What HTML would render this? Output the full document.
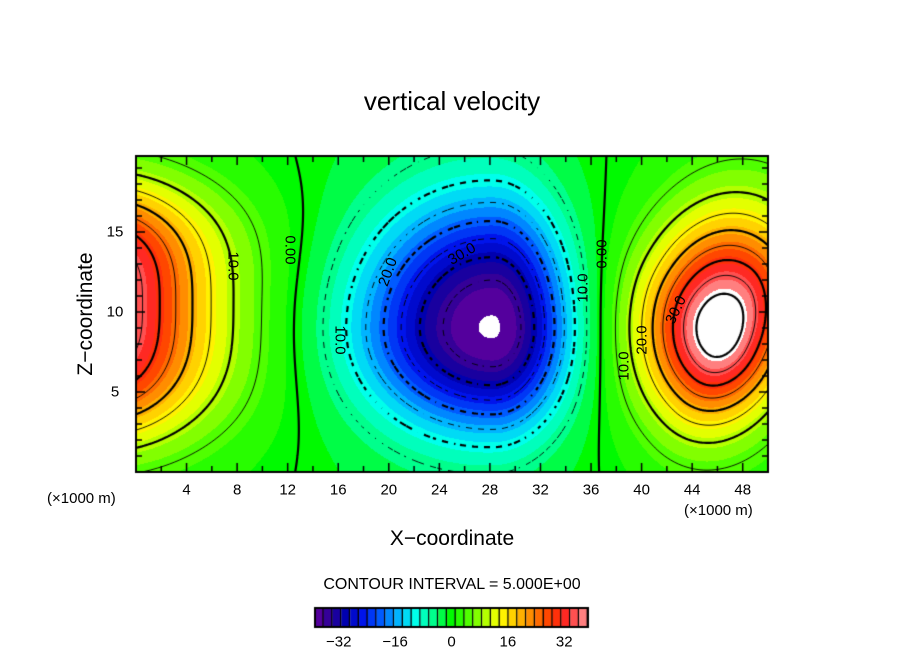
<!DOCTYPE html>
<html><head><meta charset="utf-8"><style>
html,body{margin:0;padding:0;background:#fff;}
#root{position:relative;width:904px;height:654px;overflow:hidden;font-family:"Liberation Sans",sans-serif;color:#000;}
.t{position:absolute;white-space:nowrap;}
</style></head><body>
<div id="root">
<div class="t" style="left:0;width:904px;text-align:center;top:86px;font-size:26px;">vertical velocity</div>
<canvas id="cv" width="904" height="654" style="position:absolute;left:0;top:0;"></canvas>
<div class="t" style="left:86px;top:314px;font-size:21px;transform:translate(-50%,-50%) rotate(-90deg);">Z−coordinate</div>
<div class="t" style="left:0;width:904px;text-align:center;top:527px;font-size:21px;">X−coordinate</div>
<div class="t" style="left:47px;top:490px;font-size:15px;">(×1000 m)</div>
<div class="t" style="left:684px;top:502px;font-size:15px;">(×1000 m)</div>
<div class="t" style="left:0;width:904px;text-align:center;top:576px;font-size:16px;">CONTOUR INTERVAL = 5.000E+00</div>
<div id="labels"></div>
</div>
<script>
// field blobs
const blobX = [-1, 28.3, 46.2];
const blobZ = [10.5, 9.0, 9.0];
const blobAmp = [37, -37.6, 42.8];
const blobSxL = [7.1, 10.3, 6.0];
const blobSxR = [7.1, 5.8, 5.0];
const blobSzU = [7.2, 7.8, 7.0];
const blobSzD = [8.0, 6.3, 6.0];
const blobQ = [1.5, 2.3, 2];
const blobP = [3, 2.3, 2];
const blobRadial = [0, 1, 0];
const blobTilt = [0, 0, 0.6];
const bgAmp = 1.5;
const bgZero = [12, 37.3];
const xTicks = [4, 8, 12, 16, 20, 24, 28, 32, 36, 40, 44, 48];
const zTicks = [5, 10, 15];
const cbTicks = [-32, -16, 0, 16, 32];
const contourLevels = [-40,-35,-30,-25,-20,-15,-10,-5,0,5,10,15,20,25,30,35,40];

const PL=136, PT=156, PW=632, PH=316, XMAX=50, ZMAX=19.75;
const sx = x => PL + x / XMAX * PW;
const sz = z => PT + PH - z / ZMAX * PH;
const VMIN=-38.75, VMAX=38.75, STEP=2.5;

function field(x, z) {
  let w = -bgAmp * Math.sin(Math.PI * (x - bgZero[0]) / (bgZero[1] - bgZero[0]));
  for (let i = 0; i < blobX.length; i++) {
    const dx = x - blobX[i], dz = z - blobZ[i], t = blobTilt[i];
    const u = dx*Math.cos(t) - dz*Math.sin(t);
    const v = dx*Math.sin(t) + dz*Math.cos(t);
    const sxx = u < 0 ? blobSxL[i] : blobSxR[i];
    const szz = v > 0 ? blobSzU[i] : blobSzD[i];
    let e;
    if (blobRadial[i]) {
      e = Math.pow(Math.sqrt((u/sxx)*(u/sxx) + (v/szz)*(v/szz)), blobQ[i]);
    } else {
      e = Math.pow(Math.abs(u)/sxx, blobQ[i]) + Math.pow(Math.abs(v)/szz, blobP[i]);
    }
    w += blobAmp[i]*Math.exp(-e);
  }
  return w;
}
const stops = [[-38.75,[100,0,160]],[-34,[40,0,150]],[-30,[0,0,175]],[-25,[0,20,235]],[-20,[0,90,255]],[-15,[0,180,255]],[-10,[0,255,235]],[-5,[0,255,140]],[0,[0,250,0]],[5,[80,255,0]],[10,[180,255,0]],[14,[255,255,0]],[19,[255,190,0]],[24,[255,120,0]],[29,[255,50,0]],[33,[255,40,40]],[36,[255,100,100]],[38.75,[255,150,150]]];
function color(v) {
  if (v < VMIN || v > VMAX) return [255,255,255];
  const b = Math.min(Math.floor((v - VMIN)/STEP), 30);
  const c = VMIN + (b + 0.5)*STEP;
  for (let i = 0; i < stops.length-1; i++) {
    if (c <= stops[i+1][0]) {
      const f = (c - stops[i][0])/(stops[i+1][0]-stops[i][0]);
      return stops[i][1].map((a,k)=>Math.round(a+(stops[i+1][1][k]-a)*f));
    }
  }
  return stops[stops.length-1][1];
}
const cv = document.getElementById('cv'), ctx = cv.getContext('2d');
const img = ctx.createImageData(PW, PH);
for (let py = 0; py < PH; py++) for (let px = 0; px < PW; px++) {
  const x = (px+0.5)/PW*XMAX, z = (PH-py-0.5)/PH*ZMAX;
  const c = color(field(x, z)); const o = (py*PW+px)*4;
  img.data[o]=c[0]; img.data[o+1]=c[1]; img.data[o+2]=c[2]; img.data[o+3]=255;
}
ctx.putImageData(img, PL, PT);
// contours (marching squares)
const G = 2, NX = PW/G, NY = Math.floor(PH/G);
const grid = [];
for (let j = 0; j <= NY; j++) { const row=[]; for (let i = 0; i <= NX; i++) row.push(field(i*G/PW*XMAX, ZMAX - j*G/PH*ZMAX)); grid.push(row); }
ctx.save(); ctx.beginPath(); ctx.rect(PL,PT,PW,PH); ctx.clip();
for (const L of contourLevels) {
  ctx.beginPath();
  ctx.lineWidth = (L % 10 === 0) ? 2.2 : 0.9;
  for (let j = 0; j < NY; j++) for (let i = 0; i < NX; i++) {
    if (L < 0 && ((Math.floor(i/3) + Math.floor(j/3)) % 2)) continue;
    const a=grid[j][i], b=grid[j][i+1], c=grid[j+1][i+1], d=grid[j+1][i];
    const pts = [];
    const X0 = PL+i*G, Y0 = PT+j*G;
    if ((a-L)*(b-L) < 0) pts.push([X0+G*(L-a)/(b-a), Y0]);
    if ((b-L)*(c-L) < 0) pts.push([X0+G, Y0+G*(L-b)/(c-b)]);
    if ((d-L)*(c-L) < 0) pts.push([X0+G*(L-d)/(c-d), Y0+G]);
    if ((a-L)*(d-L) < 0) pts.push([X0, Y0+G*(L-a)/(d-a)]);
    for (let k = 0; k+1 < pts.length; k += 2) { ctx.moveTo(pts[k][0],pts[k][1]); ctx.lineTo(pts[k+1][0],pts[k+1][1]); }
  }
  ctx.stroke();
}
ctx.restore();
// frame and ticks
ctx.lineWidth = 2; ctx.strokeStyle = '#000'; ctx.strokeRect(PL, PT, PW, PH);
ctx.lineWidth = 1.5; ctx.beginPath();
for (let x = 2; x < XMAX; x += 2) { const L = x % 4 === 0 ? 9 : 6; const X = sx(x);
  ctx.moveTo(X, PT+PH); ctx.lineTo(X, PT+PH-L); ctx.moveTo(X, PT); ctx.lineTo(X, PT+L); }
for (let z = 1; z < ZMAX; z++) { const L = z % 5 === 0 ? 9 : 6; const Y = sz(z);
  ctx.moveTo(PL, Y); ctx.lineTo(PL+L, Y); ctx.moveTo(PL+PW, Y); ctx.lineTo(PL+PW-L, Y); }
ctx.stroke();
// colorbar
const CBL=315, CBR=588, CBT=608, CBB=627;
const cbx = v => CBL + (v - VMIN)/(VMAX - VMIN)*(CBR - CBL);
for (let b = 0; b < 31; b++) {
  const v0 = VMIN + b*STEP; const c = color(v0 + STEP/2);
  ctx.fillStyle = `rgb(${c[0]},${c[1]},${c[2]})`;
  ctx.fillRect(cbx(v0), CBT, cbx(v0+STEP)-cbx(v0), CBB-CBT);
  ctx.fillStyle = '#000'; ctx.fillRect(cbx(v0+STEP)-1.4, CBT, 1.4, CBB-CBT);
}
ctx.lineWidth = 2; ctx.strokeRect(CBL, CBT, CBR-CBL, CBB-CBT);
const lab = document.getElementById('labels');
function addText(name, txt, x, y, size, rot) {
  const d = document.createElement('div');
  d.className = 't';
  
  
  d.textContent = txt;
  d.style.left = x + 'px'; d.style.top = y + 'px'; d.style.fontSize = size + 'px';
  d.style.transform = 'translate(-50%,-50%) rotate(' + rot + 'deg)';
  lab.appendChild(d);
}
xTicks.forEach(x => addText('x-tick-label', String(x), sx(x), 490, 15, 0));
zTicks.forEach(z => addText('y-tick-label', String(z), 115, sz(z), 15, 0));
cbTicks.forEach(v => addText('colorbar-tick-label', (v < 0 ? '−' : '') + Math.abs(v), cbx(v), 642, 15, 0));
// contour labels
const cl = [['10.0',233,266,90],['0.00',290,250,90],['10.0',340,340,90],['20.0',388,272,-70],['30.0',462,254,-30],['10.0',583,288,-90],['0.00',602,254,-90],['10.0',624,366,-90],['20.0',642,340,-90],['30.0',676,310,-65]];
cl.forEach(c => addText('contour-label', c[0], c[1], c[2], 15, c[3]));
</script>
</body></html>
